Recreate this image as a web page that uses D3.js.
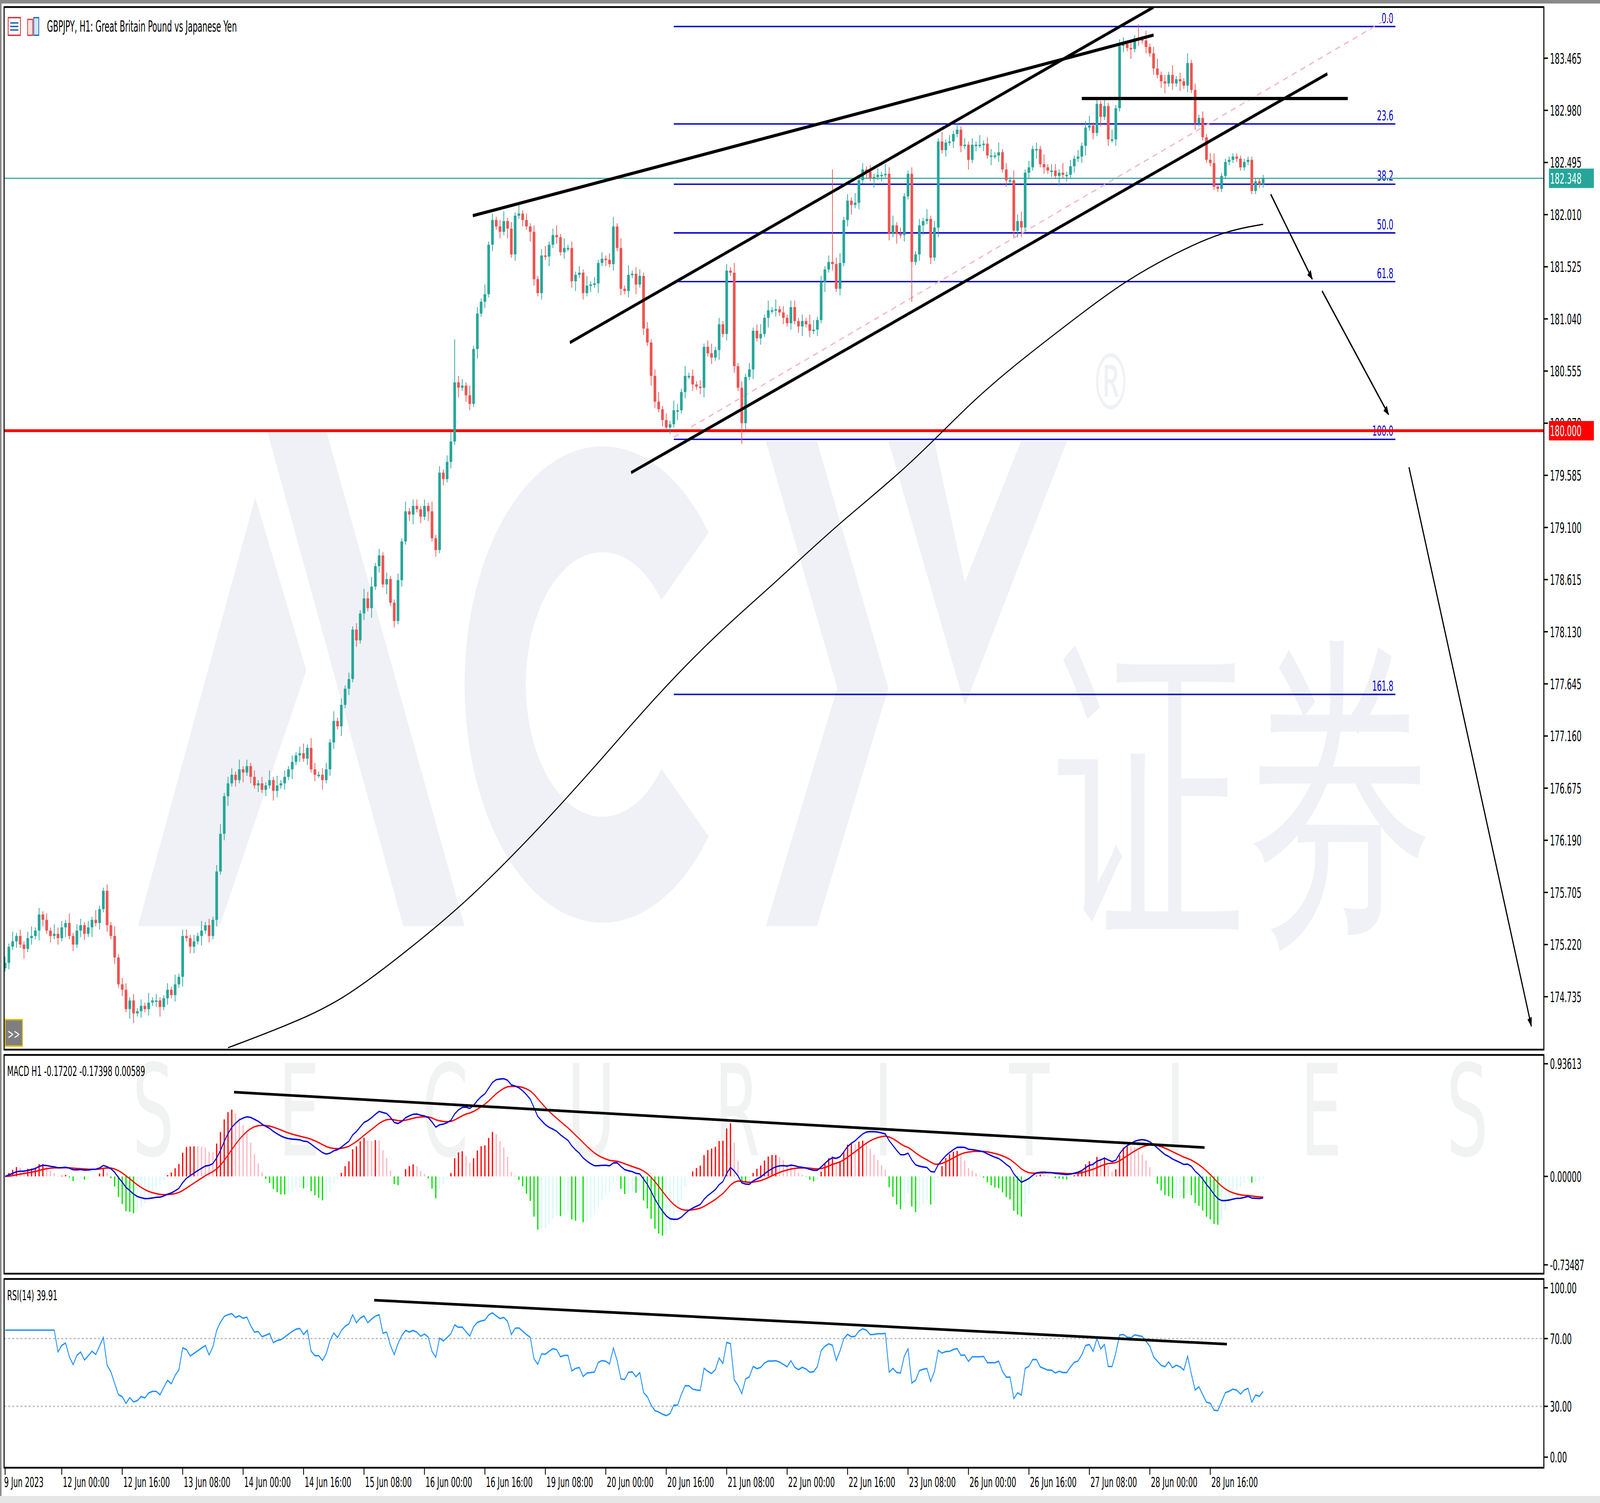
<!DOCTYPE html>
<html>
  <head>
    <meta charset="utf-8" />
    <script src="https://cdn.jsdelivr.net/npm/d3@7"></script>
    <style>
      html, body { margin: 0; padding: 0; background: #fff; overflow: hidden; }
      svg { display: block; width: 100vw; height: 100vh; }
      text { font-family: "DejaVu Sans Condensed", "Liberation Sans Narrow", "DejaVu Sans", sans-serif; }
    </style>
  </head>
  <body>
  <script>
    // hourly closes, GBPJPY H1, 9 Jun .. 29 Jun 2023
    var closes = [
      175.05,175.20,175.25,175.30,175.22,175.18,175.28,175.30,175.35,175.50,
      175.45,175.35,175.30,175.32,175.28,175.38,175.42,175.30,175.22,175.35,
      175.40,175.32,175.38,175.45,175.42,175.55,175.72,175.40,175.30,175.10,
      174.85,174.80,174.62,174.70,174.58,174.60,174.65,174.62,174.68,174.70,
      174.70,174.64,174.72,174.80,174.75,174.85,174.92,175.30,
      175.28,175.20,175.25,175.30,175.35,175.40,175.30,175.45,175.90,176.25,
      176.60,176.72,176.80,176.75,176.85,176.82,176.88,176.78,176.70,176.72,
      176.66,176.70,176.75,176.65,176.70,176.72,176.78,176.85,176.92,176.98,
      177.00,176.95,177.05,176.85,176.80,
      176.80,176.75,176.85,
      177.10,177.30,177.25,177.45,177.60,177.69,
      178.15,178.05,178.30,178.44,178.35,178.55,178.74,178.84,
      178.57,178.62,178.40,178.23,178.61,178.97,179.25,
      179.22,179.30,179.27,179.20,179.30,179.25,
      179.00,178.89,179.61,179.55,179.71,179.90,180.45,180.40,180.42,180.33,180.25,180.76,181.09,181.20,181.27,181.73,181.96,
      181.90,181.85,181.95,181.88,
      181.64,182.00,182.02,181.96,181.90,181.85,181.41,181.28,181.63,181.62,181.73,181.82,181.80,181.66,181.70,181.70,181.39,181.45,181.47,
      181.28,181.35,181.36,181.37,181.56,181.60,181.59,181.55,181.90,181.70,181.32,181.30,181.45,181.46,181.36,181.44,180.95,180.82,
      180.51,180.27,180.20,180.10,180.03,180.06,180.19,180.19,180.36,180.51,180.51,180.43,180.41,180.40,180.78,180.72,180.68,180.75,
      180.99,180.90,181.49,181.47,180.60,180.40,180.07,180.50,180.57,180.93,180.86,180.90,181.05,181.12,181.12,181.13,181.10,181.05,
      181.00,181.15,181.02,180.97,181.02,180.99,180.93,180.94,181.03,181.38,181.50,181.57,181.55,181.32,181.56,181.96,
      182.14,182.10,182.12,182.33,182.43,182.41,182.35,182.36,182.38,182.38,182.39,181.83,181.91,181.83,181.82,182.18,182.39,181.57,
      181.64,181.91,181.95,181.97,181.61,181.89,182.69,182.61,182.68,182.69,182.76,182.80,182.65,182.66,
      182.52,182.66,182.66,182.66,182.67,182.56,182.56,182.56,182.59,182.43,182.33,182.33,181.86,181.95,181.89,182.40,182.45,182.62,
      182.62,182.48,182.45,182.42,182.42,182.37,182.40,182.38,182.38,182.46,182.53,182.55,182.65,182.82,182.84,182.77,183.04,
      182.92,183.02,182.71,182.71,183.00,183.58,183.60,183.56,183.55,183.65,183.64,183.63,183.57,183.51,183.37,183.31,183.25,183.23,
      183.31,183.23,183.27,183.25,183.21,183.42,183.17,182.86,182.91,182.73,182.52,182.49,182.27,182.25,182.37,182.50,182.52,182.55,
      182.53,182.45,182.50,182.52,182.23,182.32,182.29,182.35
    ];
    var firstOpen = 175.00;
    // wick lengths per bar in steps of 0.03
    var upperWicks = "2131212312121322131221213112131221212131211213122121312123122131212121313121212313212213121212132312121121312212131212312213121312123121312121231231312121312121231313122121231213213121212312121312121231313121221213312121231213121212132312112121312131212121213122131213231212131221312121231212131221212131231213121312121231";
    var lowerWicks = "1212131213212121312122131212121213312121231212131221312121231213121212132121312121213122131212121312131212123121312121213122131212121312121321213121212312121312121212131213212121312121231213121212213121312121212312121312121231212131212131212123121312121213121213121212131213121213121212312131212121312121212312131212";
    var highSpikes = { 119: 180.85, 219: 182.43, 300: 183.78 };
    var lowSpikes = { 195: 179.88, 240: 181.20, 268: 181.80 };

    var timeLabels = ["9 Jun 2023", "12 Jun 00:00", "12 Jun 16:00", "13 Jun 08:00", "14 Jun 00:00",
      "14 Jun 16:00", "15 Jun 08:00", "16 Jun 00:00", "16 Jun 16:00", "19 Jun 08:00", "20 Jun 00:00",
      "20 Jun 16:00", "21 Jun 08:00", "22 Jun 00:00", "22 Jun 16:00", "23 Jun 08:00", "26 Jun 00:00",
      "26 Jun 16:00", "27 Jun 08:00", "28 Jun 00:00", "28 Jun 16:00"];
    var timeLabelBars = [0, 15, 31, 47, 63, 79, 95, 111, 127, 143, 159, 175, 191, 207, 223, 239, 255, 271, 287, 303, 319];

    var priceTicks = [183.465, 182.980, 182.495, 182.010, 181.525, 181.040, 180.555, 180.070, 179.585,
      179.100, 178.615, 178.130, 177.645, 177.160, 176.675, 176.190, 175.705, 175.220, 174.735];

    // moving average (black thin line), [bar, price]
    var maPoints = [[59,174.26],[74,174.46],[89,174.69],[106,175.15],[123,175.64],[143,176.36],[158,176.95],
      [172,177.52],[188,178.10],[204,178.59],[220,179.12],[239,179.66],[256,180.28],[269,180.66],
      [286,181.12],[296,181.38],[310,181.66],[323,181.86],[333,181.92]];

    var fibLevels = [0, 23.6, 38.2, 50, 61.8, 100, 161.8];
    var fibHigh = 183.76, fibLow = 179.92, fibFrom = 177, fibTo = 368;

    // drawn lines [bar, price]
    var trendLines = [
      [[123.8, 182.00], [304, 183.68]],
      [[149.5, 180.82], [304, 183.94]],
      [[165.7, 179.61], [350, 183.32]],
      [[285, 183.09], [355.4, 183.09]]
    ];
    var arrows = [
      [[335, 182.20], [346, 181.41]],
      [[348.6, 181.30], [366.2, 180.15]],
      [[371.6, 179.66], [404, 174.46]]
    ];
    var fibDiagonal = [[177, 179.94], [368.3, 183.88]];
    var supportLevel = 180.000, lastPrice = 182.348;
    var macdTrend = [[60.6, 0.70], [317.5, 0.24]];
    var rsiTrend = [[97.7, 92.7], [323.4, 66.7]];

    // ---------------------------------------------------------------
    var W = 1567, H = 852;
    var svg = d3.select("body").append("svg")
      .attr("viewBox", "0 0 " + W + " " + H)
      .attr("preserveAspectRatio", "none");

    var plotL = 4, plotR = 1512;
    var main = { top: 4, bottom: 595 }, macdP = { top: 598, bottom: 722 }, rsiP = { top: 725, bottom: 832 };

    var x = d3.scaleLinear().domain([0, 1]).range([5, 8.7]);
    var y = d3.scaleLinear().domain([174.735, 183.465]).range([565, 33]);
    var yM = d3.scaleLinear().domain([-0.73487, 0.93613]).range([717, 603]);
    var yR = d3.scaleLinear().domain([0, 100]).range([826, 730]);

    svg.append("rect").attr("width", W).attr("height", H).attr("fill", "#fff");
    svg.append("rect").attr("x", 0).attr("y", 0).attr("width", W).attr("height", 2).attr("fill", "#8a8a8a");
    svg.append("rect").attr("x", 0).attr("y", 0).attr("width", 1.5).attr("height", H).attr("fill", "#8a8a8a");

    svg.append("clipPath").attr("id", "mainclip").append("rect")
      .attr("x", plotL).attr("y", main.top).attr("width", plotR - plotL).attr("height", main.bottom - main.top);

    // watermark
    var wm = svg.append("g").attr("clip-path", "url(#mainclip)");
    var wmc = "#eff1f6";
    wm.append("path").attr("d", "M135,525 L250,282 L300,380 L215,525 Z").attr("fill", wmc);
    wm.append("path").attr("d", "M262,245 L320,245 L455,525 L395,525 Z").attr("fill", wmc);
    wm.append("path").attr("d", d3.arc()({ innerRadius: 75, outerRadius: 135, startAngle: Math.PI * 0.22, endAngle: Math.PI * 1.78 }))
      .attr("transform", "translate(590,388) rotate(90)").attr("fill", wmc);
    wm.append("path").attr("d", "M750,250 L800,250 L870,390 L800,525 L750,525 L820,390 Z").attr("fill", wmc);
    wm.append("path").attr("d", "M870,250 L915,250 L945,330 L1000,250 L1045,250 L945,400 Z").attr("fill", wmc);
    wm.append("text").attr("x", 1068).attr("y", 232).attr("font-size", 44).attr("fill", wmc).text("®");
    wm.append("text").attr("x", 1035).attr("y", 515).attr("font-size", 185)
      .attr("font-family", "Noto Sans CJK SC").attr("fill", wmc).text("证券");
    svg.append("g").selectAll("text").data("SECURITIES".split("")).enter().append("text")
      .attr("x", function (d, i) { return 150 + i * 143; }).attr("y", 655)
      .attr("font-size", 72).attr("font-family", "Lato").attr("font-weight", 300)
      .attr("fill", "#f1f3f3").attr("text-anchor", "middle").text(function (d) { return d; });

    var g = svg.append("g").attr("clip-path", "url(#mainclip)");

    // fib levels
    fibLevels.forEach(function (lv) {
      var p = fibHigh - (fibHigh - fibLow) * lv / 100;
      g.append("line").attr("x1", x(fibFrom)).attr("x2", x(fibTo)).attr("y1", y(p)).attr("y2", y(p))
        .attr("stroke", "#0000cc").attr("stroke-width", 0.8);
      g.append("text").attr("x", x(fibTo) - 2).attr("y", y(p) - 2).attr("text-anchor", "end")
        .attr("font-size", 8).attr("fill", "#0000cc").text(lv.toFixed(1));
    });
    g.append("line").attr("x1", x(fibDiagonal[0][0])).attr("y1", y(fibDiagonal[0][1]))
      .attr("x2", x(fibDiagonal[1][0])).attr("y2", y(fibDiagonal[1][1]))
      .attr("stroke", "#f5b8c4").attr("stroke-width", 0.8).attr("stroke-dasharray", "5,4");

    // current price + support
    g.append("line").attr("x1", plotL).attr("x2", plotR).attr("y1", y(lastPrice)).attr("y2", y(lastPrice))
      .attr("stroke", "#26a69a").attr("stroke-width", 0.6);
    g.append("line").attr("x1", plotL).attr("x2", plotR).attr("y1", y(supportLevel)).attr("y2", y(supportLevel))
      .attr("stroke", "#ff0000").attr("stroke-width", 1.6);

    // moving average
    g.append("path").datum(maPoints)
      .attr("d", d3.line().x(function (d) { return x(d[0]); }).y(function (d) { return y(d[1]); }).curve(d3.curveBasis))
      .attr("fill", "none").attr("stroke", "#000").attr("stroke-width", 0.7);

    // candles
    var bars = closes.map(function (c, i) {
      var o = i === 0 ? firstOpen : closes[i - 1];
      var hi = Math.max(o, c) + (+upperWicks[i] || 1) * 0.03;
      var lo = Math.min(o, c) - (+lowerWicks[i] || 1) * 0.03;
      if (highSpikes[i]) hi = highSpikes[i];
      if (lowSpikes[i]) lo = lowSpikes[i];
      return { i: i, o: o, c: c, h: hi, l: lo };
    });
    var cg = g.append("g");
    cg.selectAll("line").data(bars).enter().append("line")
      .attr("x1", function (d) { return x(d.i); }).attr("x2", function (d) { return x(d.i); })
      .attr("y1", function (d) { return y(d.h); }).attr("y2", function (d) { return y(d.l); })
      .attr("stroke", function (d) { return d.c >= d.o ? "#26a69a" : "#ef5350"; }).attr("stroke-width", 0.7);
    cg.selectAll("rect").data(bars).enter().append("rect")
      .attr("x", function (d) { return x(d.i) - 1.3; }).attr("width", 2.6)
      .attr("y", function (d) { return y(Math.max(d.o, d.c)); })
      .attr("height", function (d) { return Math.max(0.8, Math.abs(y(d.o) - y(d.c))); })
      .attr("fill", function (d) { return d.c >= d.o ? "#26a69a" : "#ef5350"; });

    // trend lines & arrows
    svg.append("defs").append("marker").attr("id", "ah").attr("viewBox", "0 0 10 10")
      .attr("refX", 9).attr("refY", 5).attr("markerWidth", 5).attr("markerHeight", 5).attr("orient", "auto")
      .append("path").attr("d", "M0,1 L10,5 L0,9 Z").attr("fill", "#000");
    trendLines.forEach(function (t) {
      g.append("line").attr("x1", x(t[0][0])).attr("y1", y(t[0][1])).attr("x2", x(t[1][0])).attr("y2", y(t[1][1]))
        .attr("stroke", "#000").attr("stroke-width", 1.8);
    });
    arrows.forEach(function (t) {
      g.append("line").attr("x1", x(t[0][0])).attr("y1", y(t[0][1])).attr("x2", x(t[1][0])).attr("y2", y(t[1][1]))
        .attr("stroke", "#000").attr("stroke-width", 1.1).attr("marker-end", "url(#ah)");
    });

    // header
    var hd = svg.append("g");
    hd.append("rect").attr("x", 8).attr("y", 10).attr("width", 12).attr("height", 10).attr("fill", "#fff").attr("stroke", "#d33").attr("stroke-width", 0.8);
    hd.append("path").attr("d", "M10,13 H18 M10,15 H18 M10,17 H18").attr("stroke", "#1a5fb4").attr("stroke-width", 0.8);
    hd.append("rect").attr("x", 27).attr("y", 11).attr("width", 5).attr("height", 9).attr("fill", "#fde0dd").attr("stroke", "#d33").attr("stroke-width", 0.7);
    hd.append("rect").attr("x", 33).attr("y", 10).attr("width", 5).attr("height", 10).attr("fill", "#d0e6f7").attr("stroke", "#1a5fb4").attr("stroke-width", 0.7);
    hd.append("text").attr("x", 46).attr("y", 18).attr("font-size", 8.5).attr("fill", "#000")
      .text("GBPJPY, H1:  Great Britain Pound vs Japanese Yen");

    // >> button
    svg.append("rect").attr("x", 5).attr("y", 578).attr("width", 17).attr("height", 15)
      .attr("fill", "#7f7f7f").attr("stroke", "#e8c000").attr("stroke-width", 0.8);
    svg.append("text").attr("x", 13.5).attr("y", 589).attr("text-anchor", "middle").attr("font-size", 8).attr("fill", "#fff").text(">>");

    // price axis
    var ay = svg.append("g");
    priceTicks.forEach(function (p) {
      ay.append("line").attr("x1", plotR).attr("x2", plotR + 4).attr("y1", y(p)).attr("y2", y(p)).attr("stroke", "#000").attr("stroke-width", 0.8);
      ay.append("text").attr("x", plotR + 6).attr("y", y(p) + 3).attr("font-size", 8.3).text(p.toFixed(3));
    });
    function priceTag(p, col) {
      ay.append("rect").attr("x", plotR + 5).attr("y", y(p) - 5.5).attr("width", 44).attr("height", 11).attr("fill", col);
      ay.append("text").attr("x", plotR + 6).attr("y", y(p) + 3).attr("font-size", 8.3).attr("fill", "#fff").text(p.toFixed(3));
    }
    priceTag(lastPrice, "#26a69a");
    priceTag(supportLevel, "#ff0000");

    // ---- MACD ----
    function ema(arr, n) {
      var k = 2 / (n + 1), out = [], prev = arr[0];
      arr.forEach(function (v, i) { prev = i === 0 ? v : v * k + prev * (1 - k); out.push(prev); });
      return out;
    }
    var e12 = ema(closes, 12), e26 = ema(closes, 26);
    var macd = closes.map(function (c, i) { return e12[i] - e26[i]; });
    var signal = ema(macd, 9);
    var hist = macd.map(function (m, i) { return (m - signal[i]) * 3; });

    var mg = svg.append("g");
    mg.selectAll("line.h").data(hist).enter().append("line").attr("class", "h")
      .attr("x1", function (d, i) { return x(i); }).attr("x2", function (d, i) { return x(i); })
      .attr("y1", yM(0)).attr("y2", function (d) { return yM(Math.max(-0.72, Math.min(0.92, d))); })
      .attr("stroke", function (d, i) {
        var prev = i ? hist[i - 1] : d;
        if (d >= 0) return d >= prev ? "#ff0000" : "#ffb6c1";
        return d <= prev ? "#00e000" : "#d8f8f8";
      }).attr("stroke-width", 1.2);
    mg.append("path").datum(signal).attr("d", d3.line().x(function (d, i) { return x(i); }).y(function (d) { return yM(d); }))
      .attr("fill", "none").attr("stroke", "#ff0000").attr("stroke-width", 0.8);
    mg.append("path").datum(macd).attr("d", d3.line().x(function (d, i) { return x(i); }).y(function (d) { return yM(d); }))
      .attr("fill", "none").attr("stroke", "#0000dd").attr("stroke-width", 0.8);
    mg.append("line").attr("x1", x(macdTrend[0][0])).attr("y1", yM(macdTrend[0][1]))
      .attr("x2", x(macdTrend[1][0])).attr("y2", yM(macdTrend[1][1])).attr("stroke", "#000").attr("stroke-width", 1.5);
    mg.append("text").attr("x", 7).attr("y", 610).attr("font-size", 8).text("MACD H1 -0.17202 -0.17398 0.00589");
    [[0.93613, "0.93613"], [0, "0.00000"], [-0.73487, "-0.73487"]].forEach(function (t) {
      mg.append("line").attr("x1", plotR).attr("x2", plotR + 4).attr("y1", yM(t[0])).attr("y2", yM(t[0])).attr("stroke", "#000").attr("stroke-width", 0.8);
      mg.append("text").attr("x", plotR + 6).attr("y", yM(t[0]) + 3).attr("font-size", 8.3).text(t[1]);
    });

    // ---- RSI ----
    var rsi = [], ag = 0, al = 0;
    closes.forEach(function (c, i) {
      if (i === 0) { rsi.push(75); return; }
      var ch = c - closes[i - 1], gn = Math.max(ch, 0), ls = Math.max(-ch, 0);
      if (i <= 14) { ag += gn / 14; al += ls / 14; } else { ag = (ag * 13 + gn) / 14; al = (al * 13 + ls) / 14; }
      rsi.push(i < 14 ? 75 : (al === 0 ? 100 : 100 - 100 / (1 + ag / al)));
    });
    var rg = svg.append("g");
    [70, 30].forEach(function (v) {
      rg.append("line").attr("x1", plotL).attr("x2", plotR).attr("y1", yR(v)).attr("y2", yR(v))
        .attr("stroke", "#bbb").attr("stroke-width", 0.7).attr("stroke-dasharray", "2,2");
    });
    rg.append("path").datum(rsi).attr("d", d3.line().x(function (d, i) { return x(i); }).y(function (d) { return yR(d); }))
      .attr("fill", "none").attr("stroke", "#1e90ff").attr("stroke-width", 0.8);
    rg.append("line").attr("x1", x(rsiTrend[0][0])).attr("y1", yR(rsiTrend[0][1]))
      .attr("x2", x(rsiTrend[1][0])).attr("y2", yR(rsiTrend[1][1])).attr("stroke", "#000").attr("stroke-width", 1.5);
    rg.append("text").attr("x", 7).attr("y", 737).attr("font-size", 8).text("RSI(14) 39.91");
    [[100, "100.00"], [70, "70.00"], [30, "30.00"], [0, "0.00"]].forEach(function (t) {
      rg.append("line").attr("x1", plotR).attr("x2", plotR + 4).attr("y1", yR(t[0])).attr("y2", yR(t[0])).attr("stroke", "#000").attr("stroke-width", 0.8);
      rg.append("text").attr("x", plotR + 6).attr("y", yR(t[0]) + 3).attr("font-size", 8.3).text(t[1]);
    });

    // panel frames
    [main, macdP, rsiP].forEach(function (p) {
      svg.append("rect").attr("x", plotL).attr("y", p.top).attr("width", plotR - plotL).attr("height", p.bottom - p.top)
        .attr("fill", "none").attr("stroke", "#000").attr("stroke-width", 1);
    });

    // time axis
    var ax = svg.append("g");
    timeLabels.forEach(function (t, k) {
      var xx = x(timeLabelBars[k]);
      ax.append("line").attr("x1", xx).attr("x2", xx).attr("y1", rsiP.bottom).attr("y2", rsiP.bottom + 4).attr("stroke", "#000").attr("stroke-width", 0.8);
      ax.append("text").attr("x", k === 0 ? 4 : xx + 1).attr("y", 843).attr("font-size", 8).text(t);
    });
    svg.append("rect").attr("x", 0).attr("y", 848).attr("width", W).attr("height", 4).attr("fill", "#e6e6e6");
  </script>
  </body>
</html>
